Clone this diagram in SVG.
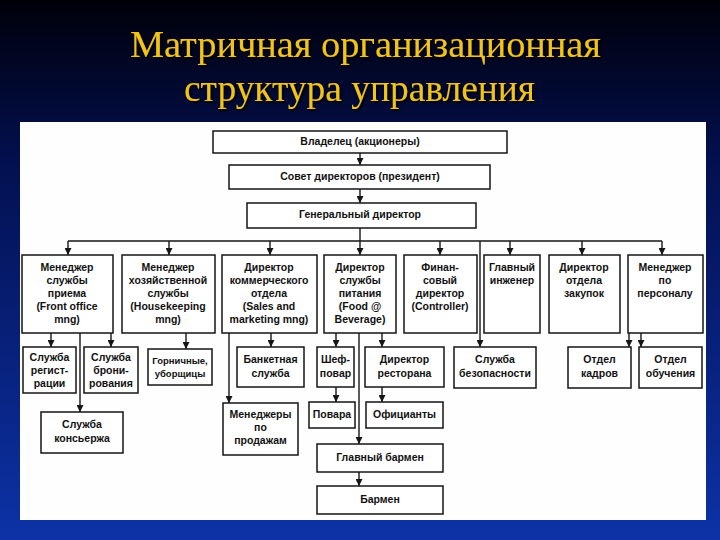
<svg xmlns="http://www.w3.org/2000/svg" width="720" height="540" viewBox="0 0 720 540">
<defs>
<linearGradient id="bg" x1="0" y1="0" x2="0" y2="1">
<stop offset="0" stop-color="#00000a"/>
<stop offset="0.3" stop-color="#031050"/>
<stop offset="1" stop-color="#0c32a6"/>
</linearGradient>
<filter id="sh" x="-5%" y="-20%" width="110%" height="150%">
<feDropShadow dx="2" dy="2" stdDeviation="0.8" flood-color="#000" flood-opacity="0.9"/>
</filter>
<marker id="ar" viewBox="0 0 8 8" refX="8" refY="4" markerWidth="7" markerHeight="7" markerUnits="userSpaceOnUse" orient="auto">
<path d="M0,0 L8,4 L0,8 z" fill="#151515"/>
</marker>
<style>
.b{fill:#fff;stroke:#151515;stroke-width:1.5}
.t{font-family:"Liberation Sans",Arial,sans-serif;font-size:10.5px;font-weight:bold;fill:#111;text-anchor:middle;dominant-baseline:middle}
.s{font-size:9.5px}
.c line,.c path{stroke:#151515;stroke-width:1.4;fill:none}
.a{marker-end:url(#ar)}
.title{font-family:"Liberation Serif","Times New Roman",serif;font-size:38px;fill:#f2c418;text-anchor:start;filter:url(#sh)}
</style>
</defs>
<rect width="720" height="540" fill="url(#bg)"/>
<text class="title" x="130" y="57" textLength="471" lengthAdjust="spacingAndGlyphs">Матричная организационная</text>
<text class="title" x="184" y="101" textLength="351" lengthAdjust="spacingAndGlyphs">структура управления</text>
<rect x="20" y="122" width="686" height="398" fill="#fefefe"/>

<g class="c" id="connectors">
<line class="a" x1="360" y1="153" x2="360" y2="165"/>
<line class="a" x1="360" y1="189" x2="360" y2="203"/>
<line x1="360" y1="228" x2="360" y2="241"/>
<line x1="68" y1="241" x2="662" y2="241"/>
<line class="a" x1="68" y1="241" x2="68" y2="255"/>
<line class="a" x1="169" y1="241" x2="169" y2="255"/>
<line class="a" x1="270" y1="241" x2="270" y2="255"/>
<line class="a" x1="360" y1="241" x2="360" y2="255"/>
<line class="a" x1="440" y1="241" x2="440" y2="255"/>
<line class="a" x1="510" y1="241" x2="510" y2="255"/>
<line class="a" x1="582" y1="241" x2="582" y2="255"/>
<line class="a" x1="662" y1="241" x2="662" y2="255"/>
<line class="a" x1="480" y1="241" x2="480" y2="347"/>
<line class="a" x1="51" y1="333" x2="51" y2="347"/>
<line class="a" x1="111" y1="333" x2="111" y2="347"/>
<line class="a" x1="80" y1="333" x2="80" y2="412"/>
<line class="a" x1="186" y1="333" x2="186" y2="349"/>
<line class="a" x1="271" y1="333" x2="271" y2="347"/>
<line class="a" x1="229" y1="333" x2="229" y2="403"/>
<line class="a" x1="336" y1="333" x2="336" y2="347"/>
<line class="a" x1="382" y1="333" x2="382" y2="347"/>
<line class="a" x1="359" y1="333" x2="359" y2="444"/>
<line class="a" x1="336" y1="387" x2="336" y2="402"/>
<line class="a" x1="382" y1="387" x2="382" y2="402"/>
<line class="a" x1="359" y1="472" x2="359" y2="486"/>
<line class="a" x1="629" y1="333" x2="629" y2="347"/>
<line class="a" x1="641" y1="333" x2="641" y2="347"/>
</g>

<g id="owner"><rect class="b" x="213" y="131" width="294" height="22"/><text class="t" x="360" y="142">Владелец (акционеры)</text></g>
<g id="board"><rect class="b" x="229" y="165" width="261" height="24"/><text class="t" x="360" y="177">Совет директоров (президент)</text></g>
<g id="gendir"><rect class="b" x="247" y="203" width="229" height="25"/><text class="t" x="360" y="215">Генеральный директор</text></g>

<g id="frontoffice"><rect class="b" x="22" y="255" width="91" height="78"/>
<text class="t" x="67" y="268">Менеджер</text><text class="t" x="67" y="281">службы</text><text class="t" x="67" y="294">приема</text><text class="t" x="67" y="307">(Front office</text><text class="t" x="67" y="320">mng)</text></g>
<g id="housekeeping"><rect class="b" x="122" y="255" width="93" height="78"/>
<text class="t" x="168" y="268">Менеджер</text><text class="t" x="168" y="281">хозяйственной</text><text class="t" x="168" y="294">службы</text><text class="t" x="168" y="307">(Housekeeping</text><text class="t" x="168" y="320">mng)</text></g>
<g id="sales"><rect class="b" x="222" y="255" width="95" height="78"/>
<text class="t" x="269" y="268">Директор</text><text class="t" x="269" y="281">коммерческого</text><text class="t" x="269" y="294">отдела</text><text class="t" x="269" y="307">(Sales and</text><text class="t" x="269" y="320">marketing mng)</text></g>
<g id="food"><rect class="b" x="324" y="255" width="72" height="78"/>
<text class="t" x="360" y="268">Директор</text><text class="t" x="360" y="281">службы</text><text class="t" x="360" y="294">питания</text><text class="t" x="360" y="307">(Food @</text><text class="t" x="360" y="320">Beverage)</text></g>
<g id="finance"><rect class="b" x="404" y="255" width="73" height="78"/>
<text class="t" x="440" y="268">Финан-</text><text class="t" x="440" y="281">совый</text><text class="t" x="440" y="294">директор</text><text class="t" x="440" y="307">(Controller)</text></g>
<g id="engineer"><rect class="b" x="484" y="255" width="56" height="78"/>
<text class="t" x="512" y="268">Главный</text><text class="t" x="512" y="281">инженер</text></g>
<g id="purchase"><rect class="b" x="549" y="255" width="71" height="78"/>
<text class="t" x="584" y="268">Директор</text><text class="t" x="584" y="281">отдела</text><text class="t" x="584" y="294">закупок</text></g>
<g id="personnel"><rect class="b" x="628" y="255" width="75" height="78"/>
<text class="t" x="665" y="268">Менеджер</text><text class="t" x="665" y="281">по</text><text class="t" x="665" y="294">персоналу</text></g>

<g id="registration"><rect class="b" x="23" y="347" width="53" height="46"/>
<text class="t" x="49.5" y="358">Служба</text><text class="t" x="49.5" y="371">регист-</text><text class="t" x="49.5" y="384">рации</text></g>
<g id="booking"><rect class="b" x="84" y="347" width="54" height="46"/>
<text class="t" x="111" y="358">Служба</text><text class="t" x="111" y="371">брони-</text><text class="t" x="111" y="384">рования</text></g>
<g id="maids"><rect class="b" x="148" y="349" width="64" height="36"/>
<text class="t s" x="180" y="361">Горничные,</text><text class="t s" x="180" y="374">уборщицы</text></g>
<g id="banquet"><rect class="b" x="237" y="347" width="67" height="40"/>
<text class="t" x="270.5" y="360">Банкетная</text><text class="t" x="270.5" y="374">служба</text></g>
<g id="chef"><rect class="b" x="317" y="347" width="37" height="40"/>
<text class="t" x="335.5" y="360">Шеф-</text><text class="t" x="335.5" y="374">повар</text></g>
<g id="restdir"><rect class="b" x="365" y="347" width="79" height="40"/>
<text class="t" x="404.5" y="360">Директор</text><text class="t" x="404.5" y="374">ресторана</text></g>
<g id="security"><rect class="b" x="454" y="347" width="82" height="41"/>
<text class="t" x="495" y="360">Служба</text><text class="t" x="495" y="374">безопасности</text></g>
<g id="hr"><rect class="b" x="568" y="347" width="63" height="41"/>
<text class="t" x="599.5" y="360">Отдел</text><text class="t" x="599.5" y="374">кадров</text></g>
<g id="training"><rect class="b" x="639" y="347" width="63" height="41"/>
<text class="t" x="670.5" y="360">Отдел</text><text class="t" x="670.5" y="374">обучения</text></g>

<g id="concierge"><rect class="b" x="41" y="412" width="82" height="41"/>
<text class="t" x="82" y="425">Служба</text><text class="t" x="82" y="439">консьержа</text></g>
<g id="salesmgr"><rect class="b" x="223" y="403" width="75" height="52"/>
<text class="t" x="260.5" y="415">Менеджеры</text><text class="t" x="260.5" y="428">по</text><text class="t" x="260.5" y="441">продажам</text></g>
<g id="cooks"><rect class="b" x="309" y="402" width="46" height="26"/>
<text class="t" x="332" y="415">Повара</text></g>
<g id="waiters"><rect class="b" x="366" y="402" width="77" height="26"/>
<text class="t" x="404.5" y="415">Официанты</text></g>
<g id="headbar"><rect class="b" x="317" y="444" width="126" height="28"/>
<text class="t" x="380" y="458">Главный бармен</text></g>
<g id="bartender"><rect class="b" x="317" y="486" width="126" height="28"/>
<text class="t" x="380" y="500">Бармен</text></g>
</svg>
